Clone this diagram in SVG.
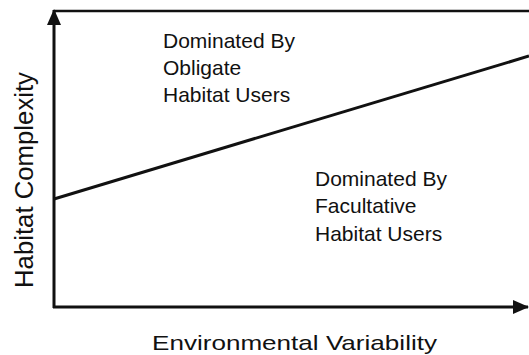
<svg xmlns="http://www.w3.org/2000/svg" width="529" height="355" viewBox="0 0 529 355">
  <style>
    .axis { stroke: #111; stroke-width: 3; fill: none; }
    .frame { stroke: #111; stroke-width: 2.5; fill: none; }
    .trend { stroke: #111; stroke-width: 3; fill: none; }
    .label { font-family: "Liberation Sans", Arial, sans-serif; fill: #111; }
    .region { font-size: 21px; }
  </style>
  <defs>
    <marker id="arrowhead" viewBox="0 0 16 14" refX="15" refY="7" markerWidth="16" markerHeight="14" markerUnits="userSpaceOnUse" orient="auto">
      <path d="M0,0 L16,7 L0,14 Z" fill="#111"/>
    </marker>
  </defs>
  <rect width="529" height="355" fill="#fff"/>

  <g id="connectors">
    <!-- vertical axis: habitat complexity -->
    <line class="axis" x1="54" y1="308" x2="54" y2="10" marker-end="url(#arrowhead)"/>
    <!-- horizontal axis: environmental variability -->
    <line class="axis" x1="53" y1="307" x2="528" y2="307" marker-end="url(#arrowhead)"/>
    <!-- upper boundary of the plot -->
    <line class="frame" x1="54" y1="11" x2="529" y2="11"/>
    <!-- dividing line between the two regions -->
    <line class="trend" x1="54" y1="199" x2="529" y2="56"/>
  </g>

  <g id="obligate-region">
    <text class="label region" x="163" y="48">Dominated By</text>
    <text class="label region" x="163" y="75">Obligate</text>
    <text class="label region" x="163" y="102">Habitat Users</text>
  </g>

  <g id="facultative-region">
    <text class="label region" x="315" y="186">Dominated By</text>
    <text class="label region" x="315" y="213">Facultative</text>
    <text class="label region" x="315" y="241">Habitat Users</text>
  </g>

  <g id="y-axis-label">
    <text class="label" font-size="25" transform="translate(33,288) rotate(-90)" textLength="216" lengthAdjust="spacingAndGlyphs">Habitat Complexity</text>
  </g>

  <g id="x-axis-label">
    <text class="label" font-size="21" x="152" y="350" textLength="285" lengthAdjust="spacingAndGlyphs">Environmental Variability</text>
  </g>
</svg>
